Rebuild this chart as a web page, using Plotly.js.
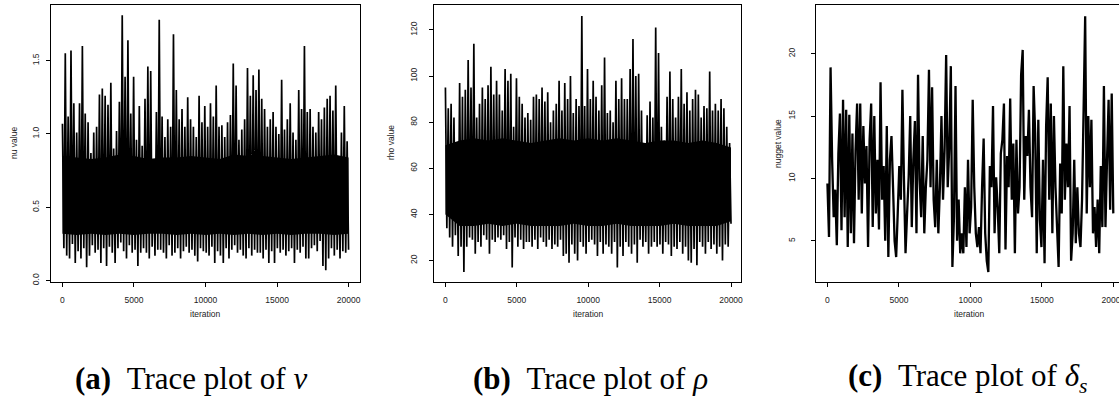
<!DOCTYPE html>
<html>
<head>
<meta charset="utf-8">
<script src="https://cdn.plot.ly/plotly-3.0.1.min.js"></script>
<style>html,body{margin:0;padding:0;background:#fff;}#chart{width:1119px;height:400px;}</style>
</head>
<body>
<div id="chart"></div>
<script>
// ---- data ----
const ITER_MAX = 20000;
const xTicks = [0, 5000, 10000, 15000, 20000];

// upper / lower excursions of the nu chain, every 200 iterations
const nuHigh = [1.07,1.55,1.12,1.57,1.21,1.01,1.21,1.60,1.14,1.08,
0.87,1.01,1.05,1.27,1.31,1.26,1.20,1.35,0.90,1.02,
1.22,1.81,1.39,1.64,1.14,1.39,0.96,1.19,0.92,1.24,
1.46,1.43,0.80,1.15,1.78,1.12,0.98,1.10,1.05,1.68,
1.30,1.10,1.17,1.05,1.25,1.10,1.05,0.98,1.26,1.08,
1.19,1.05,1.21,1.12,1.33,1.05,1.06,0.98,1.08,1.13,
1.48,1.33,0.96,1.03,1.10,1.45,1.26,1.40,1.30,1.44,
1.24,1.17,1.05,1.10,1.15,1.05,1.00,1.37,1.03,1.10,
1.21,1.01,0.96,1.30,1.17,1.60,1.15,1.17,1.05,1.01,
1.15,1.10,1.18,1.24,1.26,1.16,1.33,0.83,1.01,1.19,
0.95];
const nuLow = [0.22,0.17,0.15,0.25,0.12,0.20,0.15,0.22,0.09,0.17,
0.24,0.19,0.21,0.12,0.22,0.10,0.23,0.19,0.12,0.22,
0.26,0.20,0.15,0.24,0.19,0.21,0.10,0.19,0.22,0.19,
0.15,0.23,0.17,0.21,0.21,0.19,0.15,0.24,0.17,0.19,
0.22,0.15,0.20,0.23,0.19,0.21,0.17,0.13,0.22,0.20,
0.19,0.17,0.23,0.12,0.20,0.17,0.12,0.22,0.15,0.21,
0.24,0.19,0.21,0.17,0.15,0.22,0.17,0.21,0.19,0.19,
0.15,0.21,0.12,0.20,0.12,0.22,0.19,0.21,0.17,0.20,
0.22,0.12,0.21,0.19,0.23,0.15,0.15,0.22,0.24,0.20,
0.27,0.10,0.07,0.15,0.22,0.17,0.21,0.15,0.20,0.19,
0.21];
// solid dense core of the nu chain, every 1000 iterations
const nuCoreTop = [0.85,0.84,0.83,0.84,0.86,0.85,0.83,0.84,0.84,0.85,0.84,0.83,0.86,0.85,0.85,0.84,0.83,0.84,0.85,0.86,0.84];
const nuCoreBottom = [0.32,0.31,0.32,0.31,0.32,0.31,0.32,0.32,0.31,0.32,0.31,0.32,0.31,0.32,0.31,0.32,0.31,0.32,0.32,0.31,0.32];
const nuTicks = [0, 0.5, 1.0, 1.5];
const nuTickText = ["0.0", "0.5", "1.0", "1.5"];

// upper / lower excursions of the rho chain, every 200 iterations
const rhoHigh = [95,86,88,82,70,97,91,94,107,95,
114,82,88,95,90,96,104,92,98,92,
85,103,98,101,78,99,91,88,82,84,
81,91,92,90,95,89,93,80,85,88,
98,85,97,90,100,84,90,87,126,87,
103,90,98,91,85,96,108,84,85,80,
98,90,99,90,90,103,116,100,101,85,
67,83,89,82,121,110,78,72,91,102,
90,82,91,103,88,93,85,90,94,92,
82,87,86,102,85,88,85,90,86,78,
71];
const rhoLow = [34,30,26,31,22,26,15,26,30,29,
23,28,26,31,29,23,29,28,30,29,
31,25,28,17,30,26,29,25,28,28,
26,29,25,30,28,26,29,25,27,26,
29,22,23,19,27,23,20,28,26,23,
28,29,27,22,28,23,27,26,23,28,
17,26,22,28,26,23,27,19,29,26,
28,23,26,28,26,27,23,28,27,22,
26,25,28,23,26,20,19,25,18,28,
26,23,28,25,27,23,26,20,27,26,
36];
// solid dense core of the rho chain, every 1000 iterations
const rhoCoreTop = [70,72,73,72,73,72,71,72,73,72,73,72,73,72,71,72,72,71,72,71,69];
const rhoCoreBottom = [40,35,35,36,35,36,35,35,35,36,35,35,36,35,35,35,36,35,35,35,37];
const rhoTicks = [20, 40, 60, 80, 100, 120];

// nugget chain, evenly spaced over the 20000 iterations
const nuggetValues = [9.6,5.3,18.9,11.5,6.9,9.1,4.65,12.0,15.2,5.85,
16.3,6.9,15.5,4.5,15.1,5.6,13.6,4.8,12.3,16.0,
8.3,16.0,7.2,14.2,9.6,12.6,4.5,13.1,16.0,6.1,
15.0,7.2,11.5,5.9,17.7,8.3,11.0,5.0,14.2,3.7,
11.5,13.4,9.3,5.0,3.7,7.2,11.0,8.3,17.1,9.9,
4.0,7.2,10.1,15.0,6.1,11.5,14.6,5.6,18.3,9.9,
6.9,13.4,5.6,9.3,11.5,18.7,9.3,17.3,8.3,6.1,
11.5,5.6,9.3,15.0,8.3,12.3,19.9,9.3,12.6,19.0,
2.9,6.9,17.4,5.0,8.3,4.0,5.6,4.0,9.3,4.5,
11.5,5.6,7.7,16.3,9.3,5.6,4.5,6.1,4.0,9.3,
13.2,5.6,3.4,2.5,11.0,9.3,15.8,5.6,10.1,7.7,
4.0,12.0,13.1,16.0,4.3,11.8,9.3,16.4,8.3,12.8,
4.0,13.1,7.2,9.3,18.3,20.3,8.3,13.4,11.8,15.5,
9.3,6.9,17.4,13.6,4.0,14.7,6.7,4.5,11.5,3.2,
14.2,18.1,8.3,16.0,5.6,15.0,9.3,6.1,2.9,11.2,
7.2,19.0,8.3,12.8,9.3,15.8,3.4,5.6,11.5,4.8,
9.3,5.6,4.5,8.3,15.5,23.0,7.2,15.0,9.3,14.7,
5.6,7.7,4.5,8.3,4.0,11.0,6.1,17.4,6.1,11.5,
16.3,7.5,16.8,7.2];
const nuggetTicks = [5, 10, 15, 20];

// ---- build traces ----
function interleave(hi, lo) {
  const y = [];
  for (let i = 0; i < hi.length; i++) { y.push(hi[i], lo[i]); }
  return y;
}
function iterations(n) {
  const x = [];
  for (let k = 0; k < n; k++) x.push(k * ITER_MAX / (n - 1));
  return x;
}
const nuY = interleave(nuHigh, nuLow);
const rhoY = interleave(rhoHigh, rhoLow);

function coreTraces(bottom, top, xa, ya) {
  const x = iterations(top.length);
  return [
    {type: "scatter", mode: "lines", x: x, y: bottom, xaxis: xa, yaxis: ya, line: {width: 0, color: "#000"}, hoverinfo: "skip"},
    {type: "scatter", mode: "lines", x: x, y: top, xaxis: xa, yaxis: ya, fill: "tonexty", fillcolor: "#000", line: {width: 0, color: "#000"}, hoverinfo: "skip"}
  ];
}

const lineStyle = {color: "#000", width: 1.7, simplify: false};
const traces = [].concat(
  coreTraces(nuCoreBottom, nuCoreTop, "x", "y"),
  coreTraces(rhoCoreBottom, rhoCoreTop, "x2", "y2"),
  [
    {type: "scatter", mode: "lines", x: iterations(nuY.length), y: nuY, xaxis: "x", yaxis: "y", line: lineStyle, hoverinfo: "skip"},
    {type: "scatter", mode: "lines", x: iterations(rhoY.length), y: rhoY, xaxis: "x2", yaxis: "y2", line: lineStyle, hoverinfo: "skip"},
    {type: "scatter", mode: "lines", x: iterations(nuggetValues.length), y: nuggetValues, xaxis: "x3", yaxis: "y3", line: {color: "#000", width: 2.3, simplify: false}, hoverinfo: "skip"}
  ]
);

const W = 1119, H = 400;
const tickFont = {family: "Liberation Sans, Arial, sans-serif", size: 8.5, color: "#222"};
function xAxis(l, r, range) {
  return {domain: [l / W, r / W], range: range, tickvals: xTicks, ticktext: xTicks.map(String),
    ticks: "outside", ticklen: 4, tickwidth: 1, tickcolor: "#000", showline: true, mirror: true,
    linecolor: "#000", linewidth: 1, showgrid: false, zeroline: false, tickfont: tickFont,
    ticklabelstandoff: 6, ticklabeloverflow: "allow", fixedrange: true};
}
function yAxis(range, vals, text, mirror, standoff) {
  return {domain: [(H - 282) / H, (H - 5) / H], range: range, tickvals: vals, ticktext: text,
    tickangle: -90, ticks: "outside", ticklen: 4, tickwidth: 1, tickcolor: "#000", showline: true,
    mirror: mirror, linecolor: "#000", linewidth: 1, showgrid: false, zeroline: false,
    tickfont: tickFont, ticklabelstandoff: standoff, fixedrange: true};
}

const layout = {
  width: W, height: H, margin: {l: 0, r: 0, t: 0, b: 0},
  paper_bgcolor: "#fff", plot_bgcolor: "#fff", showlegend: false,
  xaxis: Object.assign(xAxis(51, 360, [-800, 20800]), {anchor: "y"}),
  yaxis: Object.assign(yAxis([-0.01, 1.88], nuTicks, nuTickText, true, 4), {anchor: "x"}),
  xaxis2: Object.assign(xAxis(434, 741, [-800, 20700]), {anchor: "y2"}),
  yaxis2: Object.assign(yAxis([10.7, 130.8], rhoTicks, rhoTicks.map(String), true, 9), {anchor: "x2"}),
  xaxis3: Object.assign(xAxis(816, 1119, [-800, 20400]), {anchor: "y3"}),
  yaxis3: Object.assign(yAxis([1.7, 23.9], nuggetTicks, nuggetTicks.map(String), false, 13), {anchor: "x3"}),
  annotations: []
};

const labFont = {family: "Liberation Sans, Arial, sans-serif", size: 8.5, color: "#222"};
function ann(px, py, text, font, extra) {
  return Object.assign({xref: "paper", yref: "paper", x: px / W, y: 1 - py / H, text: text,
    showarrow: false, font: font, xanchor: "center", yanchor: "middle"}, extra || {});
}
const yTitles = [["nu value", 14], ["rho value", 391], ["nugget value", 778]];
yTitles.forEach(t => layout.annotations.push(ann(t[1], 143, t[0], labFont, {textangle: -90})));
[205, 588, 970].forEach(cx => layout.annotations.push(ann(cx, 314, "iteration", labFont)));

const capFont = {family: "Liberation Serif, Times New Roman, serif", size: 31, color: "#000"};
const captions = [
  ["<b>(a)</b>\u00a0\u00a0Trace plot of <i>ν</i>", 191],
  ["<b>(b)</b>\u00a0\u00a0Trace plot of <i>ρ</i>", 590],
  ["<b>(c)</b>\u00a0\u00a0Trace plot of <i>δ<sub>s</sub></i>", 968]
];
captions.forEach(c => layout.annotations.push(ann(c[1], 378, c[0], capFont)));

Plotly.newPlot("chart", traces, layout, {staticPlot: true, displayModeBar: false});
</script>
</body>
</html>
